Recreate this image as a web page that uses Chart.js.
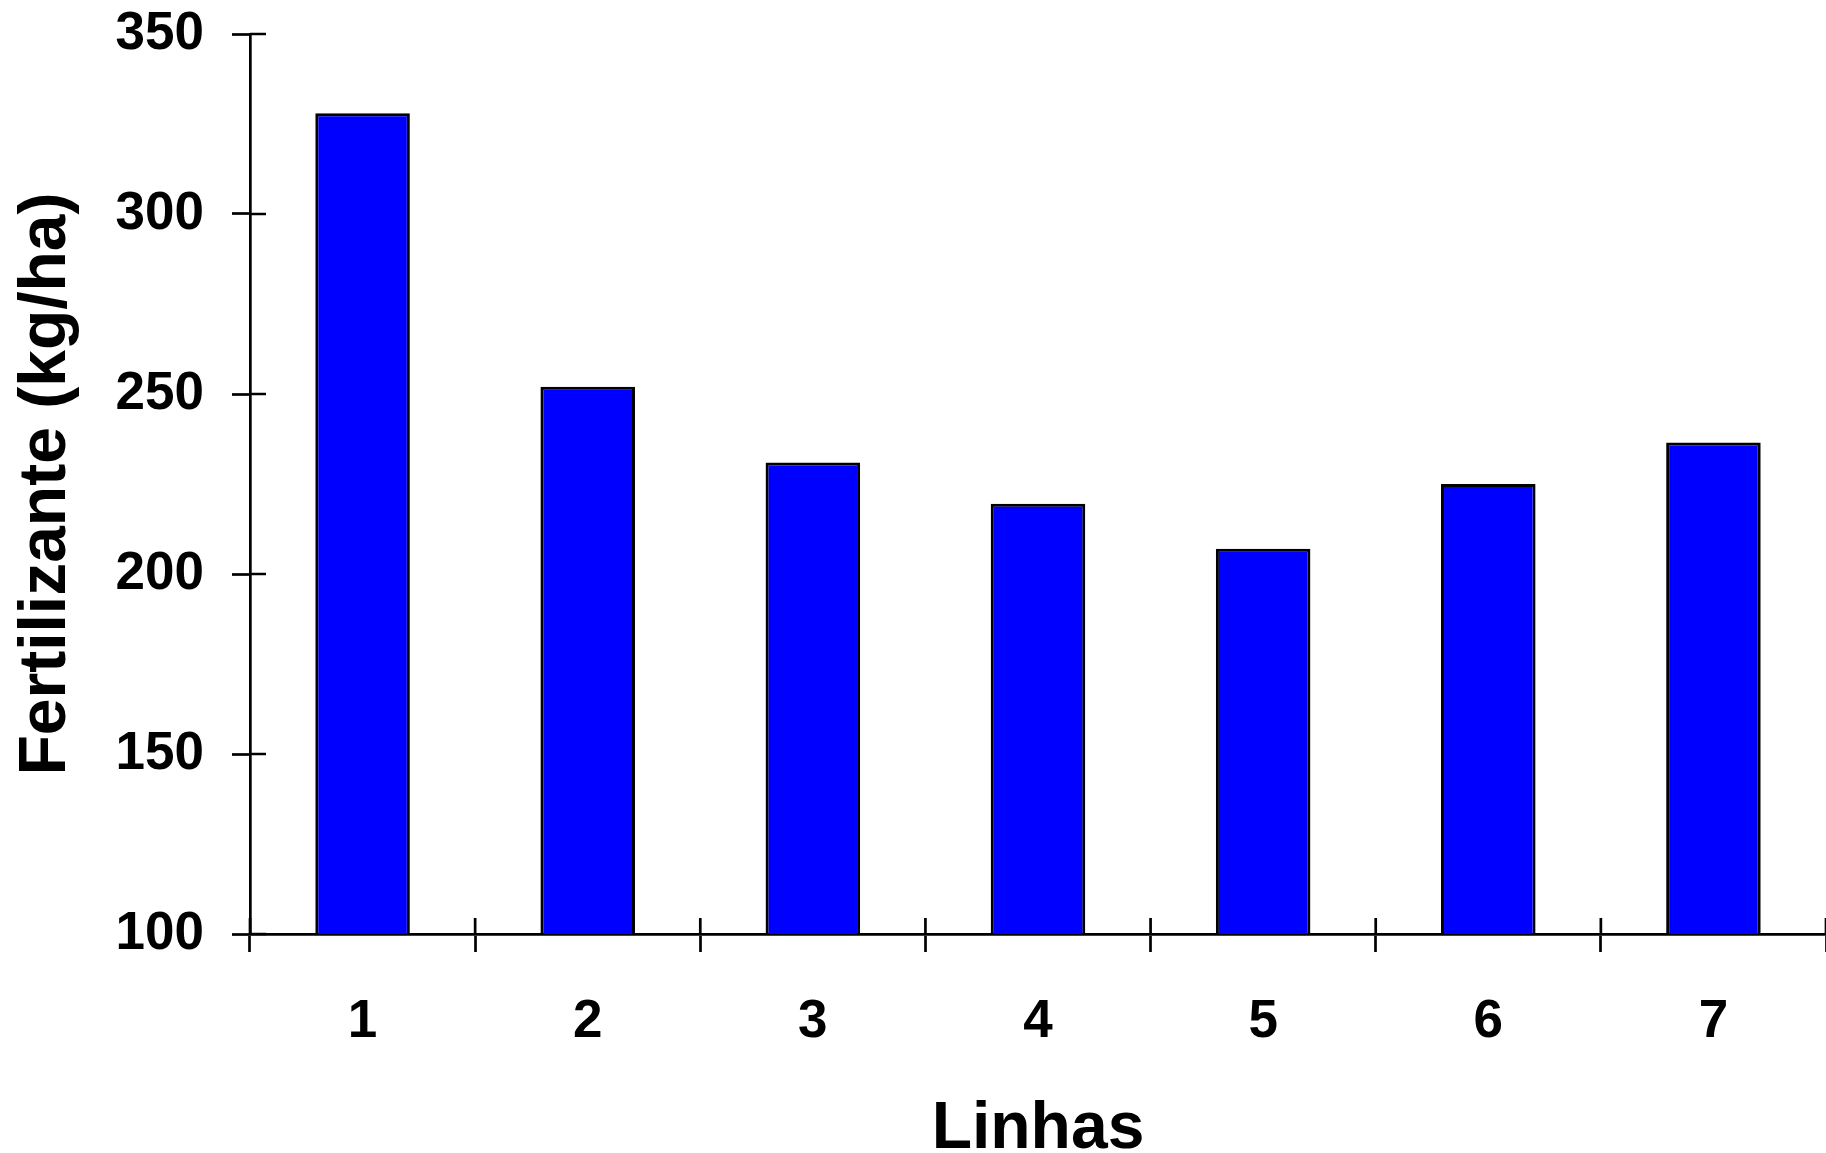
<!DOCTYPE html>
<html>
<head>
<meta charset="utf-8">
<script src="https://cdn.jsdelivr.net/npm/chart.js@4/dist/chart.umd.min.js"></script>
<style>
  html,body{margin:0;padding:0;background:#fff;}
  #wrap{width:1826px;height:1153px;position:relative;}
</style>
</head>
<body>
<div id="wrap"><canvas id="c"></canvas></div>
<script>
// --- data ---
const linhas = ['1','2','3','4','5','6','7'];
const fertilizante = [328, 252, 231, 219.5, 207, 225, 236.5];
const yTicks = [100, 150, 200, 250, 300, 350];

const FONT = "'Liberation Sans', Arial, sans-serif";
const LW = 2.7;

// inner half of the crossing tick marks
const innerTicks = {
  id:'innerTicks',
  afterDraw(chart){
    const {ctx, chartArea:a, scales:{x, y}} = chart;
    ctx.save();
    ctx.strokeStyle = '#000'; ctx.lineWidth = LW;
    ctx.beginPath();
    yTicks.forEach(v=>{ const py = y.getPixelForValue(v); ctx.moveTo(a.left, py); ctx.lineTo(a.left+16, py); });
    for(let i=0;i<=linhas.length;i++){ const px = x.getPixelForValue(i-0.5); ctx.moveTo(px, a.bottom); ctx.lineTo(px, a.bottom-16); }
    ctx.stroke();
    ctx.restore();
  }
};

new Chart(document.getElementById('c'), {
  type:'bar',
  data:{ labels: linhas, datasets:[{
    data: fertilizante, backgroundColor:'#0000ff', borderColor:'#000',
    borderWidth: 3, borderSkipped:false,
    categoryPercentage:1, barPercentage:0.42
  }]},
  options:{
    responsive:true, maintainAspectRatio:false, animation:false,
    layout:{ padding:{ top:34, right:0, left:0, bottom:0 } },
    plugins:{ legend:{display:false}, tooltip:{enabled:false} },
    scales:{
      x:{
        grid:{ offset:true, drawOnChartArea:false, tickLength:18, tickWidth:LW, tickColor:'#000' },
        border:{ display:true, color:'#000', width:LW },
        ticks:{ color:'#000', padding:39, font:{ family:FONT, size:53, weight:'bold' } },
        title:{ display:true, text:'Linhas', color:'#000', padding:{top:0,bottom:0},
          font:{ family:FONT, size:66, weight:'bold', lineHeight:0.7 } },
        afterFit(s){ s.height = 219; s.paddingLeft = 0; s.paddingRight = 0; }
      },
      y:{
        min:100, max:350,
        afterBuildTicks(s){ s.ticks = yTicks.map(v=>({value:v})); },
        grid:{ drawOnChartArea:false, tickLength:18, tickWidth:LW, tickColor:'#000' },
        border:{ display:true, color:'#000', width:LW },
        ticks:{ color:'#000', padding:28, font:{ family:FONT, size:53, weight:'bold' } },
        title:{ display:true, text:'Fertilizante (kg/ha)', color:'#000', padding:{top:7,bottom:0},
          font:{ family:FONT, size:66, weight:'bold' } },
        afterFit(s){ s.width = 250; s.paddingTop = 0; s.paddingBottom = 0; }
      }
    }
  },
  plugins:[innerTicks]
});
</script>
</body>
</html>
